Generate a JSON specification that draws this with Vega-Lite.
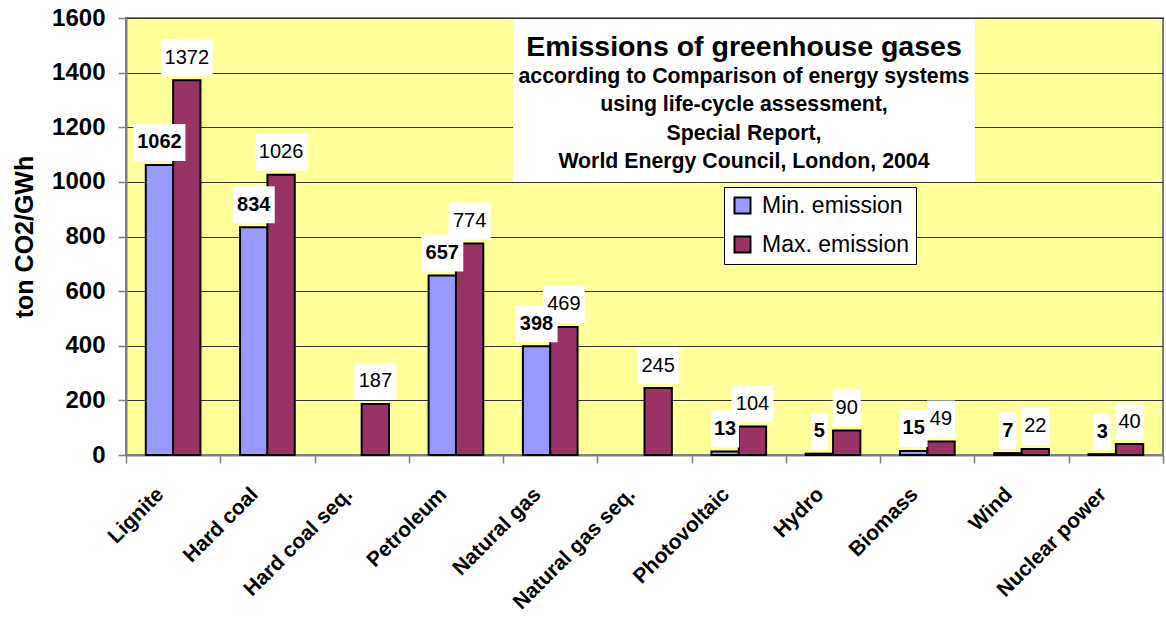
{
  "$schema": "https://vega.github.io/schema/vega-lite/v6.json",
  "width": 1037,
  "height": 437,
  "autosize": {"type": "none"},
  "padding": {"left": 126, "top": 18, "right": 3, "bottom": 162},
  "background": "white",
  "config": {
    "font": "Liberation Sans",
    "view": {"fill": "#FFFF99", "stroke": "#808080", "strokeWidth": 2},
    "axis": {
      "domainColor": "#808080", "domainWidth": 2,
      "tickColor": "#808080", "tickWidth": 1.5, "tickSize": 8,
      "labelColor": "black", "labelFont": "Liberation Sans", "labelFontWeight": "bold",
      "titleFont": "Liberation Sans", "titleColor": "black",
      "gridColor": "#333333", "gridWidth": 1
    }
  },
  "datasets": {
    "emissions": [
      {"cat": "Lignite", "series": "Min. emission", "value": 1062},
      {"cat": "Lignite", "series": "Max. emission", "value": 1372},
      {"cat": "Hard coal", "series": "Min. emission", "value": 834},
      {"cat": "Hard coal", "series": "Max. emission", "value": 1026},
      {"cat": "Hard coal seq.", "series": "Max. emission", "value": 187},
      {"cat": "Petroleum", "series": "Min. emission", "value": 657},
      {"cat": "Petroleum", "series": "Max. emission", "value": 774},
      {"cat": "Natural gas", "series": "Min. emission", "value": 398},
      {"cat": "Natural gas", "series": "Max. emission", "value": 469},
      {"cat": "Natural gas seq.", "series": "Max. emission", "value": 245},
      {"cat": "Photovoltaic", "series": "Min. emission", "value": 13},
      {"cat": "Photovoltaic", "series": "Max. emission", "value": 104},
      {"cat": "Hydro", "series": "Min. emission", "value": 5},
      {"cat": "Hydro", "series": "Max. emission", "value": 90},
      {"cat": "Biomass", "series": "Min. emission", "value": 15},
      {"cat": "Biomass", "series": "Max. emission", "value": 49},
      {"cat": "Wind", "series": "Min. emission", "value": 7},
      {"cat": "Wind", "series": "Max. emission", "value": 22},
      {"cat": "Nuclear power", "series": "Min. emission", "value": 3},
      {"cat": "Nuclear power", "series": "Max. emission", "value": 40}
    ]
  },
  "layer": [
    {
      "data": {"name": "emissions"},
      "mark": {"type": "bar", "stroke": "black", "strokeWidth": 2},
      "encoding": {
        "x": {
          "field": "cat", "type": "nominal",
          "scale": {
            "domain": ["Lignite", "Hard coal", "Hard coal seq.", "Petroleum", "Natural gas", "Natural gas seq.", "Photovoltaic", "Hydro", "Biomass", "Wind", "Nuclear power"],
            "paddingInner": 0, "paddingOuter": 0
          },
          "axis": {
            "title": null, "labelAngle": -45, "labelAlign": "right", "labelBaseline": "middle",
            "labelFontSize": 21, "labelPadding": 28, "labelOffset": -13, "tickBand": "extent", "grid": false
          }
        },
        "xOffset": {
          "field": "series", "type": "nominal",
          "scale": {"domain": ["Min. emission", "Max. emission"], "paddingInner": 0, "paddingOuter": 0.7235}
        },
        "y": {
          "field": "value", "type": "quantitative",
          "scale": {"domain": [0, 1600], "nice": false},
          "axis": {
            "title": "ton CO2/GWh", "titleFontSize": 25, "titleFontWeight": "bold", "titlePadding": 14,
            "values": [0, 200, 400, 600, 800, 1000, 1200, 1400, 1600], "format": "d",
            "labelFontSize": 24, "labelPadding": 13, "grid": true
          }
        },
        "fill": {
          "field": "series", "type": "nominal",
          "scale": {"domain": ["Min. emission", "Max. emission"], "range": ["#9999FF", "#993366"]},
          "legend": {
            "orient": "none", "legendX": 598, "legendY": 169, "title": null,
            "fillColor": "white", "strokeColor": "black", "padding": 7,
            "symbolType": "square", "symbolSize": 256, "symbolStrokeColor": "black", "symbolStrokeWidth": 2,
            "labelFontSize": 23, "labelFont": "Liberation Sans", "labelColor": "black",
            "rowPadding": 14, "labelOffset": 8
          }
        }
      }
    },
    {
      "data": {"values": [{}]},
      "mark": {"type": "bar", "width": 462, "xOffset": 5.2, "yOffset": 2, "fill": "white"},
      "encoding": {
        "x": {"datum": "Photovoltaic", "type": "nominal"},
        "y": {"datum": 1600, "type": "quantitative"},
        "y2": {"datum": 1000}
      }
    },
    {
      "data": {"values": [{}]},
      "mark": {"type": "text", "fontSize": 28.5, "fontWeight": "bold", "dx": 5.2, "dy": 29, "baseline": "middle", "align": "center", "color": "black"},
      "encoding": {
        "x": {"datum": "Photovoltaic", "type": "nominal"},
        "y": {"datum": 1600, "type": "quantitative"},
        "text": {"value": "Emissions of greenhouse gases"}
      }
    },
    {
      "data": {"values": [{}]},
      "mark": {"type": "text", "fontSize": 21.3, "fontWeight": "bold", "dx": 5.2, "dy": 59, "lineHeight": 28.3, "baseline": "middle", "align": "center", "color": "black"},
      "encoding": {
        "x": {"datum": "Photovoltaic", "type": "nominal"},
        "y": {"datum": 1600, "type": "quantitative"},
        "text": {"value": ["according to Comparison of energy systems", "using life-cycle assessment,", "Special Report,", "World Energy Council, London, 2004"]}
      }
    },
    {
      "data": {"name": "emissions"},
      "mark": {"type": "bar", "fill": "white", "yOffset": -41, "y2Offset": -4},
      "encoding": {
        "x": {"field": "cat", "type": "nominal"},
        "xOffset": {"field": "series", "type": "nominal"},
        "y": {"field": "value", "type": "quantitative"},
        "y2": {"field": "value"},
        "size": {
          "field": "value", "type": "quantitative",
          "scale": {"type": "threshold", "domain": [10, 100, 1000], "range": [17, 28, 42, 52]},
          "legend": null
        }
      }
    },
    {
      "data": {"name": "emissions"},
      "transform": [{"filter": "datum.series === 'Min. emission'"}],
      "mark": {"type": "text", "fontSize": 20, "fontWeight": "bold", "baseline": "middle", "align": "center", "dy": -22.5, "color": "black"},
      "encoding": {
        "x": {"field": "cat", "type": "nominal"},
        "xOffset": {"field": "series", "type": "nominal"},
        "y": {"field": "value", "type": "quantitative"},
        "text": {"field": "value", "type": "quantitative"}
      }
    },
    {
      "data": {"name": "emissions"},
      "transform": [{"filter": "datum.series === 'Max. emission'"}],
      "mark": {"type": "text", "fontSize": 20, "fontWeight": "normal", "baseline": "middle", "align": "center", "dy": -22.5, "color": "black"},
      "encoding": {
        "x": {"field": "cat", "type": "nominal"},
        "xOffset": {"field": "series", "type": "nominal"},
        "y": {"field": "value", "type": "quantitative"},
        "text": {"field": "value", "type": "quantitative"}
      }
    }
  ]
}
